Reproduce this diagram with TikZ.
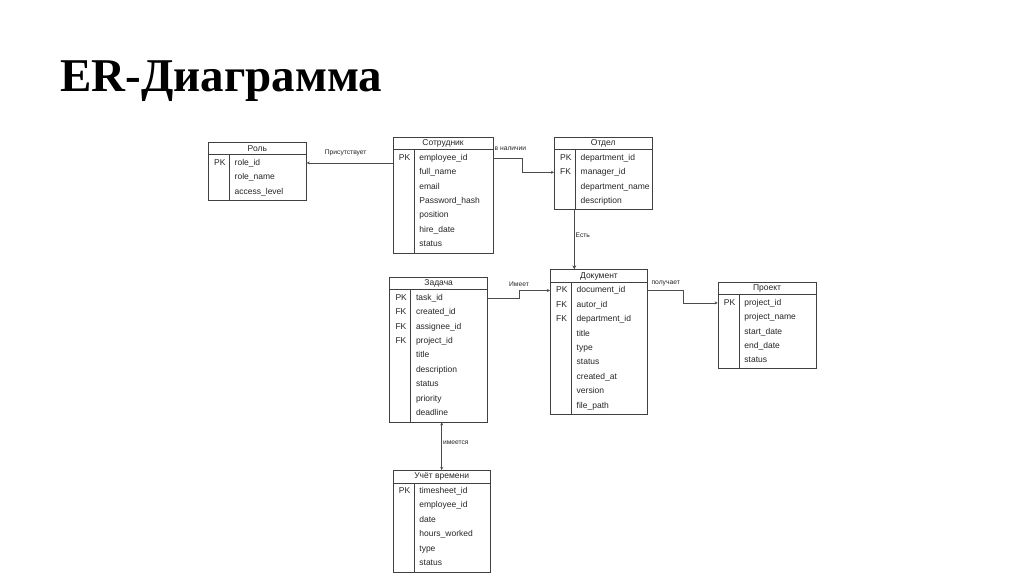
\documentclass[tikz,border=0pt]{standalone}
\usepackage{fontspec}
\setmainfont{Liberation Sans}
\newfontfamily\headfont{Liberation Serif}
\usetikzlibrary{arrows.meta,calc}

\begin{document}
\begin{tikzpicture}[x=1pt,y=-1pt,>={Stealth[length=3pt,width=3pt]},
  ent/.style={draw=black!75, line width=0.7pt, anchor=north west, inner sep=0pt},
  rule/.style={draw=black!75, line width=0.7pt},
  etitle/.style={anchor=north, minimum height=13pt, inner sep=0pt, font=\fontsize{8.5}{10}\selectfont, text=black!85},
  fld/.style={anchor=west, inner sep=0pt, text height=6.2pt, text depth=1.8pt, font=\fontsize{8.5}{10}\selectfont, text=black!85},
  key/.style={fld},
  link/.style={draw=black!70, line width=0.6pt},
  lbl/.style={font=\fontsize{6.7}{8}\selectfont, text=black!85, inner sep=1pt}]

\useasboundingbox (0,0) rectangle (1024,574);
\fill[white] (0,0) rectangle (1024,574);

\node[anchor=base west, inner sep=0pt, font=\headfont\bfseries\fontsize{47}{56}\selectfont] (title) at (60,91) {ER-Диаграмма};

% Роль
\node[ent, minimum width=98pt, minimum height=58pt] (role) at (208,141.7) {};
\node[etitle] (role-t) at (role.north) {Роль};
\draw[rule] ($(role.north west)+(0,13)$) -- ($(role.north east)+(0,13)$);
\draw[rule] ($(role.north west)+(21.5,13)$) -- ($(role.south west)+(21.5,0)$);
\node[key] (role-k1) at ($(role.north west)+(6,21.2)$) {PK};
\foreach \f [count=\i] in {role\_id, role\_name, access\_level}
  \node[fld] (role-\i) at ($(role.north west)+(26.5,{21.2+14.45*(\i-1)})$) {\f};

% Сотрудник
\node[ent, minimum width=100pt, minimum height=116pt] (emp) at (392.7,136.7) {};
\node[etitle] (emp-t) at (emp.north) {Сотрудник};
\draw[rule] ($(emp.north west)+(0,13)$) -- ($(emp.north east)+(0,13)$);
\draw[rule] ($(emp.north west)+(21.5,13)$) -- ($(emp.south west)+(21.5,0)$);
\node[key] (emp-k1) at ($(emp.north west)+(6,21.2)$) {PK};
\foreach \f [count=\i] in {employee\_id, full\_name, email, Password\_hash, position, hire\_date, status}
  \node[fld] (emp-\i) at ($(emp.north west)+(26.5,{21.2+14.45*(\i-1)})$) {\f};

% Отдел
\node[ent, minimum width=97.7pt, minimum height=72.5pt] (dept) at (554,136.7) {};
\node[etitle] (dept-t) at (dept.north) {Отдел};
\draw[rule] ($(dept.north west)+(0,13)$) -- ($(dept.north east)+(0,13)$);
\draw[rule] ($(dept.north west)+(21.5,13)$) -- ($(dept.south west)+(21.5,0)$);
\foreach \k [count=\i] in {PK, FK}
  \node[key] (dept-k\i) at ($(dept.north west)+(6,{21.2+14.45*(\i-1)})$) {\k};
\foreach \f [count=\i] in {department\_id, manager\_id, department\_name, description}
  \node[fld] (dept-\i) at ($(dept.north west)+(26.5,{21.2+14.45*(\i-1)})$) {\f};

% Документ
\node[ent, minimum width=97.3pt, minimum height=145pt] (doc) at (550,269.3) {};
\node[etitle] (doc-t) at (doc.north) {Документ};
\draw[rule] ($(doc.north west)+(0,13)$) -- ($(doc.north east)+(0,13)$);
\draw[rule] ($(doc.north west)+(21.5,13)$) -- ($(doc.south west)+(21.5,0)$);
\foreach \k [count=\i] in {PK, FK, FK}
  \node[key] (doc-k\i) at ($(doc.north west)+(6,{21.2+14.45*(\i-1)})$) {\k};
\foreach \f [count=\i] in {document\_id, autor\_id, department\_id, title, type, status, created\_at, version, file\_path}
  \node[fld] (doc-\i) at ($(doc.north west)+(26.5,{21.2+14.45*(\i-1)})$) {\f};

% Задача
\node[ent, minimum width=98pt, minimum height=145pt] (task) at (389.3,276.7) {};
\node[etitle] (task-t) at (task.north) {Задача};
\draw[rule] ($(task.north west)+(0,13)$) -- ($(task.north east)+(0,13)$);
\draw[rule] ($(task.north west)+(21.5,13)$) -- ($(task.south west)+(21.5,0)$);
\foreach \k [count=\i] in {PK, FK, FK, FK}
  \node[key] (task-k\i) at ($(task.north west)+(6,{21.2+14.45*(\i-1)})$) {\k};
\foreach \f [count=\i] in {task\_id, created\_id, assignee\_id, project\_id, title, description, status, priority, deadline}
  \node[fld] (task-\i) at ($(task.north west)+(26.5,{21.2+14.45*(\i-1)})$) {\f};

% Проект
\node[ent, minimum width=98pt, minimum height=86.5pt] (proj) at (717.7,281.7) {};
\node[etitle] (proj-t) at (proj.north) {Проект};
\draw[rule] ($(proj.north west)+(0,13)$) -- ($(proj.north east)+(0,13)$);
\draw[rule] ($(proj.north west)+(21.5,13)$) -- ($(proj.south west)+(21.5,0)$);
\node[key] (proj-k1) at ($(proj.north west)+(6,21.2)$) {PK};
\foreach \f [count=\i] in {project\_id, project\_name, start\_date, end\_date, status}
  \node[fld] (proj-\i) at ($(proj.north west)+(26.5,{21.2+14.45*(\i-1)})$) {\f};

% Учёт времени
\node[ent, minimum width=97.3pt, minimum height=101.7pt] (time) at (392.7,470) {};
\node[etitle] (time-t) at (time.north) {Учёт времени};
\draw[rule] ($(time.north west)+(0,13)$) -- ($(time.north east)+(0,13)$);
\draw[rule] ($(time.north west)+(21.5,13)$) -- ($(time.south west)+(21.5,0)$);
\node[key] (time-k1) at ($(time.north west)+(6,21.2)$) {PK};
\foreach \f [count=\i] in {timesheet\_id, employee\_id, date, hours\_worked, type, status}
  \node[fld] (time-\i) at ($(time.north west)+(26.5,{21.2+14.45*(\i-1)})$) {\f};

% связи
\draw[link,->] (emp.west |- role-1) -- node[lbl, above=6pt, xshift=-4pt] (l-pres) {Присутствует} (role.east |- role-1);
\draw[link,->] (emp.east |- emp-1) -- node[lbl, pos=0, anchor=south west, yshift=6pt] (l-nal) {в наличии} ++(29,0) |- (dept.west |- dept-2);
\coordinate (d-est) at ($(dept.south west)+(20.3,0)$);
\draw[link,-{Stealth[length=4pt,width=4pt]}] (d-est) -- node[lbl, right, pos=0.42] (l-est) {Есть} (d-est |- doc.north);
\draw[link,->] (task.east |- task-1) -- ++(31,0) |- node[lbl, pos=0.5, above=3pt] (l-has) {Имеет} (doc.west |- doc-1);
\draw[link,->] (doc.east |- doc-1) -- node[lbl, above=3.5pt] (l-get) {получает} ++(35.4,0) |- (proj.west |- proj-1);
\draw[link,<->] (task.south -| time.north) -- node[lbl, right, pos=0.42] (l-tm) {имеется} (time.north);
\end{tikzpicture}
\end{document}
